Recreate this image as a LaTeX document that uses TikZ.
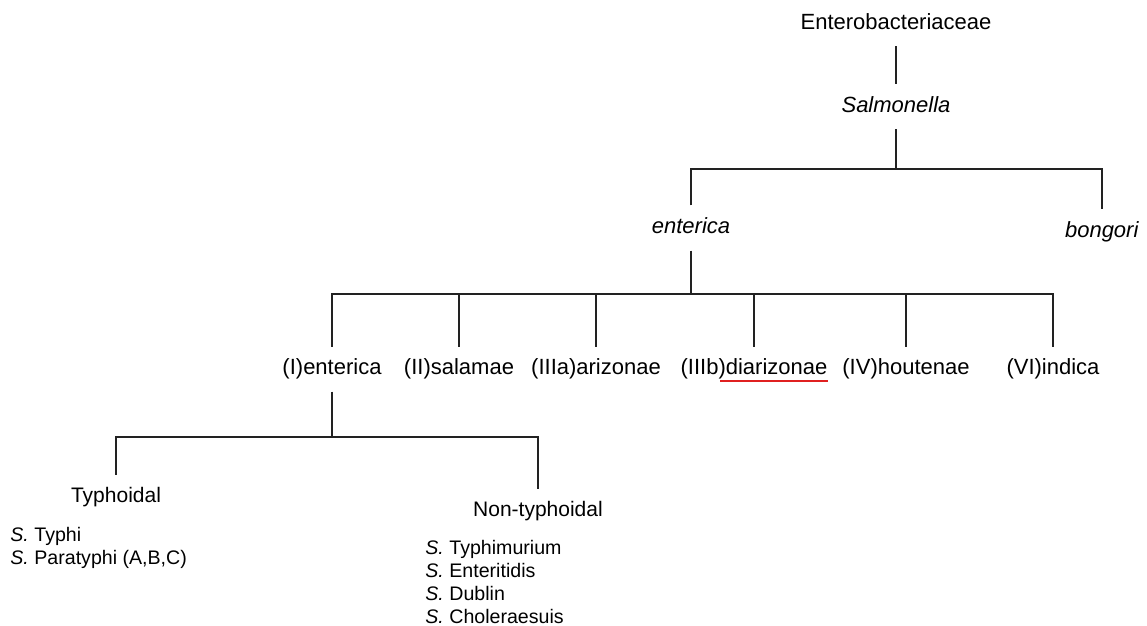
\documentclass[tikz,border=0pt]{standalone}
\usepackage{fontspec}
\setmainfont{Liberation Sans}
\usetikzlibrary{positioning, calc}
\definecolor{treeline}{HTML}{222222}
\definecolor{spellred}{HTML}{e02020}

\begin{document}
\begin{tikzpicture}[
    x=0.5pt, y=-0.5pt,
    taxon/.style={font=\fontsize{11}{13}\selectfont, text height=8pt, text depth=2.5pt, inner sep=3pt, outer sep=3pt},
    group/.style={taxon, font=\fontsize{10.5}{12.5}\selectfont},
    spplist/.style={font=\fontsize{9.8}{11.6}\selectfont, align=left, inner sep=0pt, anchor=west},
    branch/.style={line width=1.3pt, treeline},
    spell/.style={line width=1pt, spellred}
]
\useasboundingbox (0,0) rectangle (1147,626);

\node[taxon] (family) at (896,24) {Enterobacteriaceae};
\node[taxon] (genus) at (896,107) {\textit{Salmonella}};
\node[taxon] (enterica) at (691,228) {\textit{enterica}};
\node[taxon] (bongori) at (1102,232) {\textit{bongori}};

\node[taxon] (sub1) at (332,369) {(I)enterica};
\node[taxon] (sub2) at (459,369) {(II)salamae};
\node[taxon] (sub3) at (596,369) {(IIIa)arizonae};
\node[taxon] (sub4) at (754,369) {(IIIb)diarizonae};
\node[taxon] (sub5) at (906,369) {(IV)houtenae};
\node[taxon] (sub6) at (1053,369) {(VI)indica};

\node[group] (typh) at (116,497) {Typhoidal};
\node[group] (nontyph) at (538,511) {Non-typhoidal};

\node[spplist] (typhlist) at (10,548) {\textit{S.} Typhi\\\textit{S.} Paratyphi (A,B,C)};
\node[spplist] (ntlist) at (425,582) {\textit{S.} Typhimurium\\\textit{S.} Enteritidis\\\textit{S.} Dublin\\\textit{S.} Choleraesuis};

\coordinate (b1) at (896,169);
\coordinate (b2) at (692,294);
\coordinate (b3) at (331,437);

\draw[branch] (family) -- (genus);
\draw[branch] (genus) -- (b1);
\draw[branch] (enterica.north) |- (b1) -| (bongori.north);
\draw[branch] (enterica.south) -- (enterica.south |- b2);
\draw[branch] (sub1.north) |- (b2) -| (sub6.north);
\foreach \s in {sub2,sub3,sub4,sub5}
    \draw[branch] (\s.north) -- (\s.north |- b2);
\draw[branch] (sub1.south) -- (sub1.south |- b3);
\draw[branch] (typh.north) |- (b3) -| (nontyph.north);

% spell-check mark
\draw[spell] (720,381) -- (828,381);
\end{tikzpicture}
\end{document}
